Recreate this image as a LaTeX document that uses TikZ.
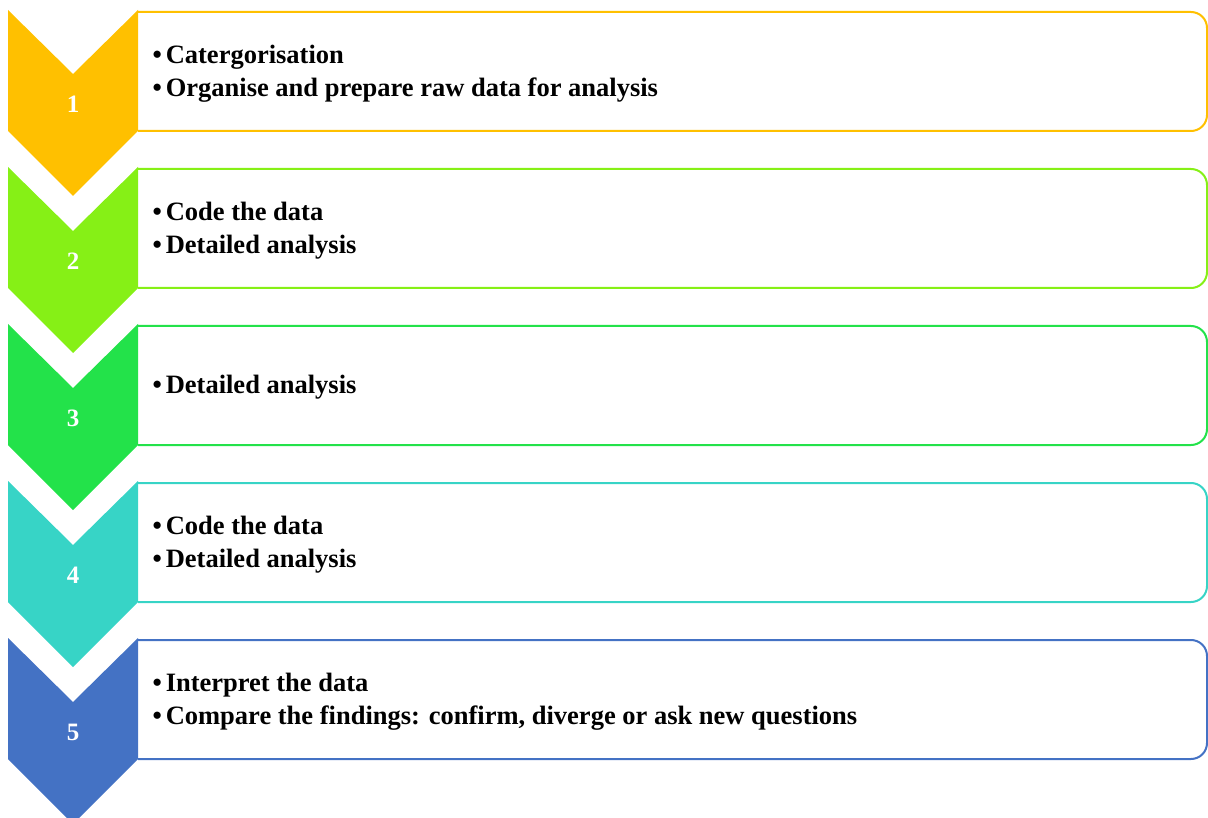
\documentclass[tikz,border=0pt]{standalone}
\usepackage{fontspec}
\setmainfont{Liberation Serif}
\definecolor{stepone}{HTML}{FFC000}
\definecolor{steptwo}{HTML}{86F016}
\definecolor{stepthree}{HTML}{23E24A}
\definecolor{stepfour}{HTML}{37D4C6}
\definecolor{stepfive}{HTML}{4472C4}
\newcommand{\pt}{\textbullet\hspace{4pt}}
\tikzset{
  chevron/.style={fill=#1, draw=none},
  stepframe/.style={draw=#1, line width=2pt, rounded corners=16pt},
  stepnum/.style={text=white, font=\fontsize{25}{27}\selectfont\bfseries},
  steptext/.style={anchor=west, align=left, font=\fontsize{26.5}{33}\selectfont\bfseries}
}
\begin{document}
\begin{tikzpicture}[x=1pt, y=-1pt]
        \useasboundingbox (0,0) rectangle (1208,818);
        % Five steps, each a chevron with a framed box
        \foreach \i/\col in {1/stepone, 2/steptwo, 3/stepthree, 4/stepfour, 5/stepfive} {
            \pgfmathsetmacro{\ytop}{10+157*(\i-1)}
            \draw[stepframe=\col] (138,\ytop+2) -- (1207,\ytop+2) -- (1207,\ytop+121) -- (138,\ytop+121);
            \fill[chevron=\col] (8,\ytop) -- (73,\ytop+64) -- (138,\ytop) -- (138,\ytop+121)
                -- (73,\ytop+186) -- (8,\ytop+121) -- cycle;
            \node[stepnum] (n\i) at (73,\ytop+94) {\i};
            \coordinate (c\i) at (149,\ytop+63.5);
        }
        % Points of each step
        \node[steptext] (t1) at (c1) {\pt Catergorisation\\\pt Organise and prepare raw data for analysis};
        \node[steptext] (t2) at (c2) {\pt Code the data\\\pt Detailed analysis};
        \node[steptext] (t3) at (c3) {\pt Detailed analysis};
        \node[steptext] (t4) at (c4) {\pt Code the data\\\pt Detailed analysis};
        \node[steptext] (t5) at (c5) {\pt Interpret the data\\\pt Compare the findings: confirm, diverge or ask new questions};
    \end{tikzpicture}
\end{document}
